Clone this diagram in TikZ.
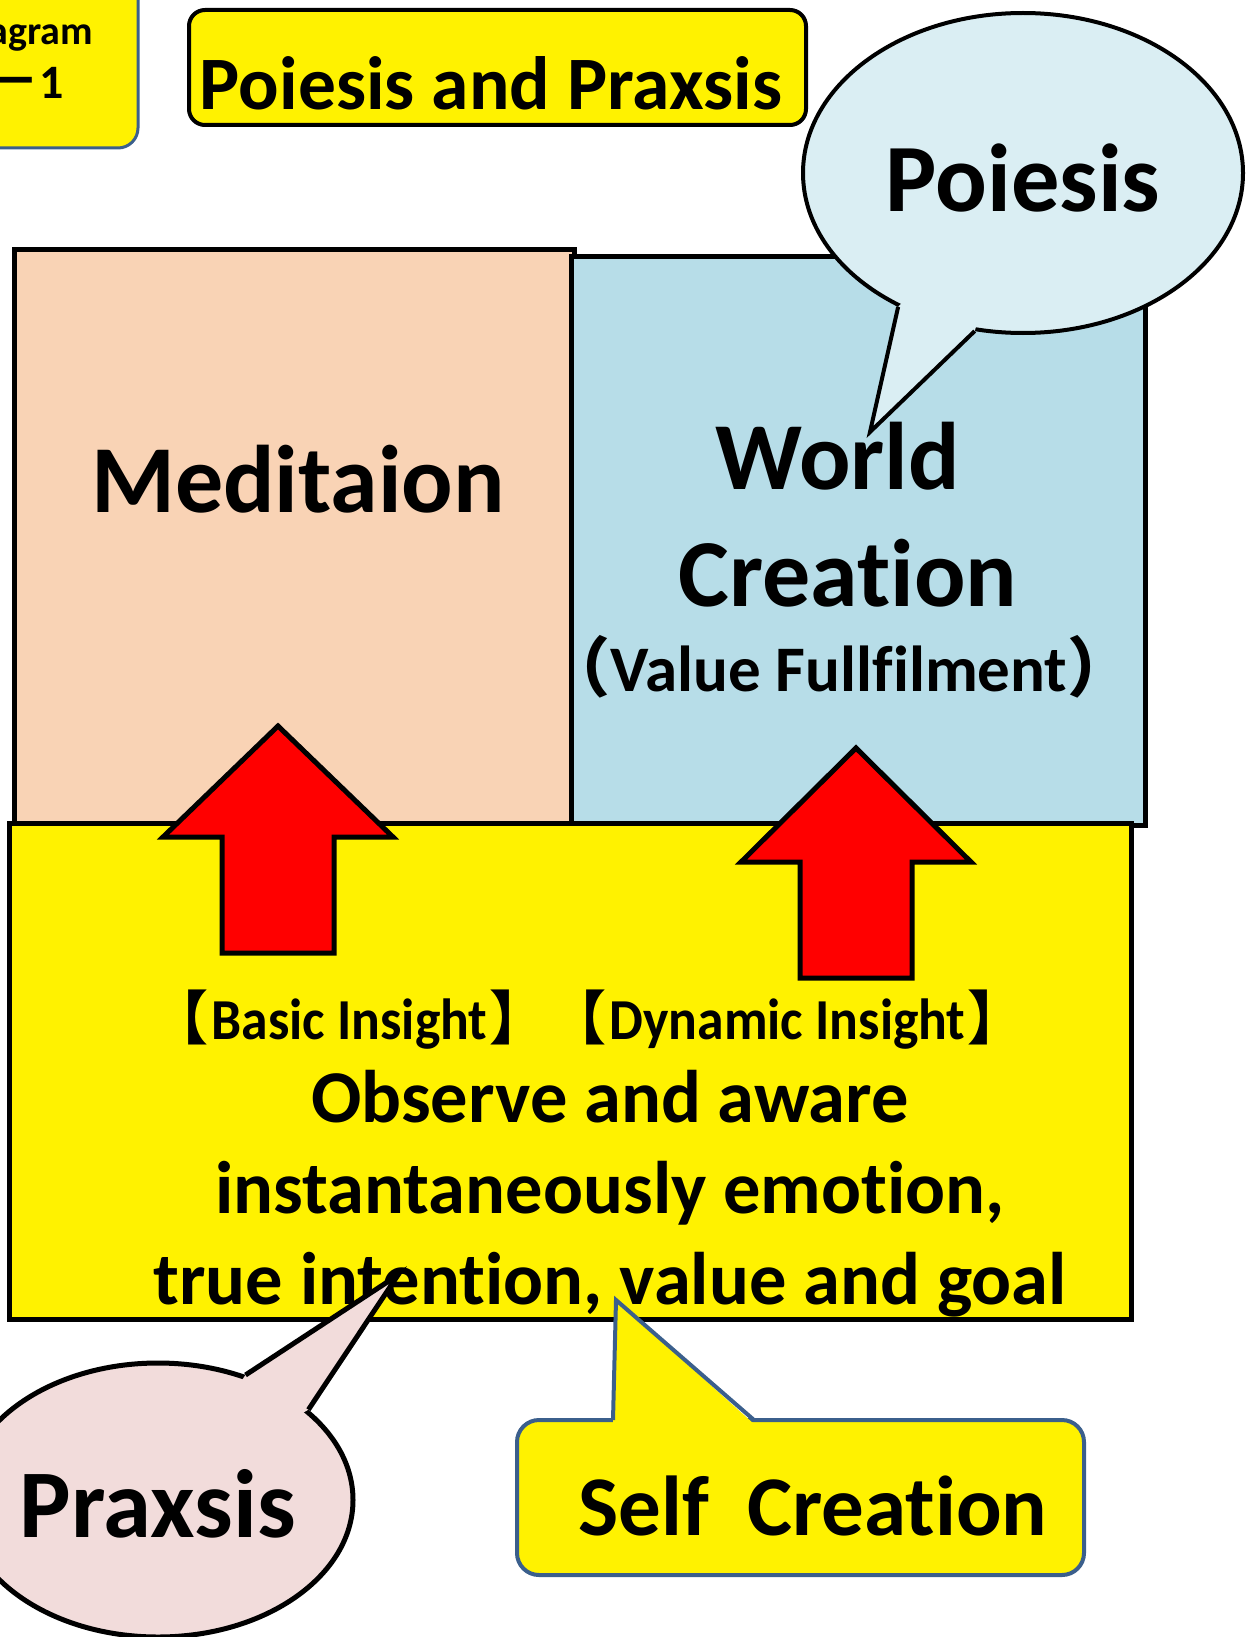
\documentclass[tikz,border=0pt]{standalone}
\usepackage{graphicx}
\usepackage{fontspec}
\usetikzlibrary{shapes.geometric}
\setmainfont{Carlito}[Ligatures=NoCommon]
\newfontfamily\cjk{Noto Sans CJK JP}
\definecolor{peach}{HTML}{F9D3B5}
\definecolor{aqua}{HTML}{B7DDE8}
\definecolor{paleaqua}{HTML}{DAEEF3}
\definecolor{palerose}{HTML}{F2DCDB}
\definecolor{slate}{HTML}{3B5F8C}
\newcommand{\fs}[1]{\fontsize{#1}{#1}\selectfont}

\begin{document}
\begin{tikzpicture}[x=1pt,y=-1pt,line join=miter]
        \tikzstyle{box}=[rectangle,draw=black,line width=5pt,inner sep=0pt]
        \tikzstyle{word}=[inner sep=0pt,anchor=base]
        \tikzstyle{bubble}=[ellipse,draw=black,line width=4pt,inner sep=0pt]
        \tikzstyle{uparrow}=[draw=black,fill=red,line width=5pt]
        \tikzstyle{tag}=[rectangle,fill=yellow,inner sep=0pt]

        \useasboundingbox (0,0) rectangle (1253,1637);
        \clip (0,0) rectangle (1253,1637);

        % corner tag and title
        \node[tag,rounded corners=20pt,draw=slate,line width=3pt,minimum width=168pt,minimum height=178pt] (diagram) at (54,59) {};
        \node[word,anchor=base east,font=\bfseries\fs{40}] (diagram-a) at (93,45) {Diagram};
        \node[word,anchor=base east,font=\bfseries\fs{48}] (diagram-b) at (64,99) {{\cjk －}1};
        \node[tag,rounded corners=16pt,draw=black,line width=4pt,minimum width=617pt,minimum height=115pt] (title) at (497.5,67.5) {};
        \node[word,font=\bfseries\fs{75.5}] (title-txt) at (491,110) {Poiesis and Praxsis};

        % the three boxes
        \node[box,fill=peach,minimum width=560pt,minimum height=575pt] (meditaion) at (294,537.5) {};
        \node[box,fill=aqua,minimum width=574pt,minimum height=568pt] (world) at (858,541) {};
        \node[box,fill=yellow,minimum width=1122pt,minimum height=496pt] (insight) at (570,1071) {};

        \foreach \x/\tip/\head/\foot in {278/726/837/953, 856/748/862/978}
                \draw[uparrow] (\x,\tip) -- (\x+115,\head) -- (\x+56,\head) -- (\x+56,\foot)
                        -- (\x-56,\foot) -- (\x-56,\head) -- (\x-115,\head) -- cycle;

        \node[word,font=\bfseries\fs{96}] (meditaion-txt) at (298,512) {Meditaion};
        \node[word,font=\bfseries\fs{96}] (world-a) at (838,489) {World};
        \node[word,font=\bfseries\fs{96}] (world-b) at (848,606) {Creation};
        \node[word,font=\bfseries\fs{65}] (world-c) at (839,691) {{\cjk （}Value Fullfilment{\cjk ）}};

        \node[word,font=\bfseries\fs{58}] (basic) at (349,1039) {{\cjk 【}\hspace{3pt}\scalebox{0.925}[1]{Basic Insight}\hspace{2pt}{\cjk 】}};
        \node[word,font=\bfseries\fs{58}] (dynamic) at (787,1039) {{\cjk 【}\hspace{3pt}\scalebox{0.925}[1]{Dynamic Insight}\hspace{2pt}{\cjk 】}};
        \foreach \txt/\y in {{Observe and aware}/1122, {instantaneously emotion,}/1213, {true intention, value and goal}/1304}
                \node[word,font=\bfseries\fs{74.5}] at (610,\y) {\txt};

        % callouts
        \node[bubble,fill=paleaqua,minimum width=440pt,minimum height=320pt] (poiesis) at (1023,173) {};
        \coordinate (poiesis-tip) at (870,432);
        \fill[paleaqua] (poiesis.227) -- (poiesis-tip) -- (poiesis.253) -- (poiesis.center) -- cycle;
        \draw[line width=4pt] (poiesis.227) -- (poiesis-tip) -- (poiesis.253);
        \node[word,font=\bfseries\fs{96.5}] (poiesis-txt) at (1023,212) {Poiesis};

        \node[bubble,fill=palerose,line width=5pt,minimum width=390pt,minimum height=274pt] (praxsis) at (158,1500) {};
        \coordinate (praxsis-tip) at (398,1275);
        \fill[palerose] (praxsis.55) -- (praxsis-tip) -- (praxsis.31) -- (praxsis.center) -- cycle;
        \draw[line width=5pt] (praxsis.55) -- (praxsis-tip) -- (praxsis.31);
        \node[word,font=\bfseries\fs{97}] (praxsis-txt) at (158,1537) {Praxsis};

        \node[tag,rounded corners=22pt,draw=slate,line width=4pt,minimum width=567pt,minimum height=155pt] (selfcre) at (800.5,1497.5) {};
        \coordinate (selfcre-l) at (613,1420);
        \coordinate (selfcre-r) at (754,1420);
        \coordinate (selfcre-tip) at (616,1300);
        \fill[yellow] ([yshift=-4pt]selfcre-l) -- (selfcre-tip) -- ([yshift=-4pt]selfcre-r) -- cycle;
        \draw[slate,line width=4pt] (selfcre-l) -- (selfcre-tip) -- (selfcre-r);
        \node[word,font=\bfseries\fs{85}] (selfcre-txt) at (813,1535) {Self\ \ Creation};
\end{tikzpicture}
\end{document}
